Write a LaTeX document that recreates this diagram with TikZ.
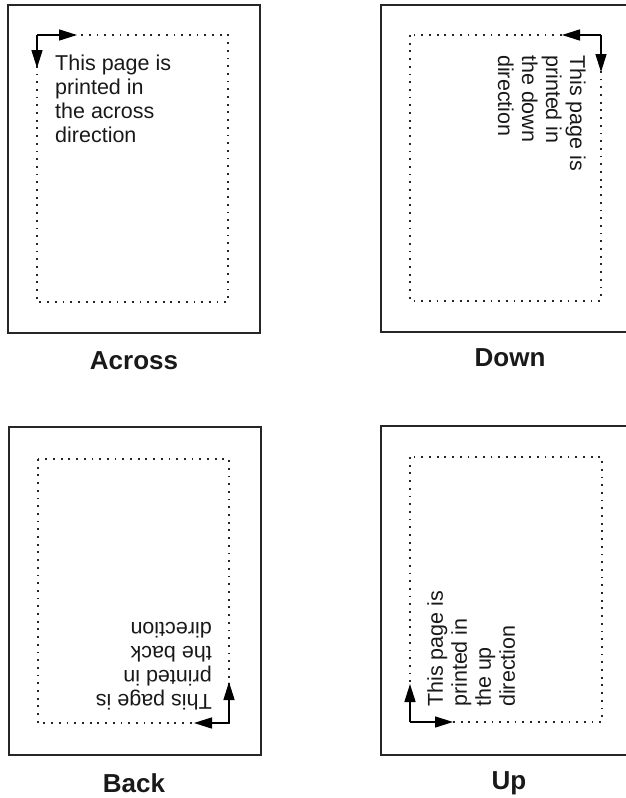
\documentclass[tikz,border=0pt]{standalone}
\usepackage{fontspec}
\setmainfont{Liberation Sans}
\usetikzlibrary{arrows.meta}
\begin{document}
\begin{tikzpicture}[x=1pt,y=-1pt,
  outer/.style={draw=black!85, line width=1.8pt},
  inner/.style={draw=black!85, line width=1.8pt, dash pattern=on 1.8pt off 5.9pt},
  dirarrow/.style={draw=black, line width=1.5pt, -{Triangle[length=18pt,width=11pt]}},
  pagetext/.style={font=\fontsize{21.5}{24}\selectfont, align=left, inner sep=0pt, anchor=north west, text=black!90},
  caption/.style={font=\fontsize{26}{30}\selectfont\bfseries, inner sep=0pt, text=black!90}]
\useasboundingbox (0,0) rectangle (626,798);
\clip (0,0) rectangle (626,798);

% ---------- Across ----------
\draw[outer] (8,5) rectangle (260,333);
\draw[inner] (37,35) rectangle (228,302);
\coordinate (acorner) at (37,35);
\coordinate (ah) at (77,35);
\coordinate (av) at (37,68);
\draw[dirarrow] (acorner) -- (ah);
\draw[dirarrow] (acorner) -- (av);
\node[pagetext] (atext) at (55,55) {This page is\\printed in\\the across\\direction};
\node[caption] (across) at (134,361) {Across};

% ---------- Down ----------
\draw[outer] (381,5) rectangle (639,332);
\draw[inner] (410,35) rectangle (601,301);
\coordinate (dcorner) at (601,35);
\coordinate (dh) at (562,35);
\coordinate (dv) at (601,72);
\draw[dirarrow] (dcorner) -- (dh);
\draw[dirarrow] (dcorner) -- (dv);
\node[pagetext, rotate=-90] (dtext) at (586,55) {This page is\\printed in\\the down\\direction};
\node[caption] (down) at (510,358) {Down};

% ---------- Back ----------
\draw[outer] (9,427) rectangle (261,755);
\draw[inner] (38,459) rectangle (229,723);
\coordinate (bcorner) at (229,723);
\coordinate (bh) at (194,723);
\coordinate (bv) at (229,682);
\draw[dirarrow] (bcorner) -- (bh);
\draw[dirarrow] (bcorner) -- (bv);
\node[pagetext, rotate=180] (btext) at (212,710) {This page is\\printed in\\the back\\direction};
\node[caption] (back) at (134,783) {Back};

% ---------- Up ----------
\draw[outer] (381,426) rectangle (639,755);
\draw[inner] (410,457) rectangle (602,722);
\coordinate (ucorner) at (410,722);
\coordinate (uh) at (453,722);
\coordinate (uv) at (410,684);
\draw[dirarrow] (ucorner) -- (uh);
\draw[dirarrow] (ucorner) -- (uv);
\node[pagetext, rotate=90] (utext) at (427,707) {This page is\\printed in\\the up\\direction};
\node[caption] (up) at (509,783) {Up};
\end{tikzpicture}
\end{document}
